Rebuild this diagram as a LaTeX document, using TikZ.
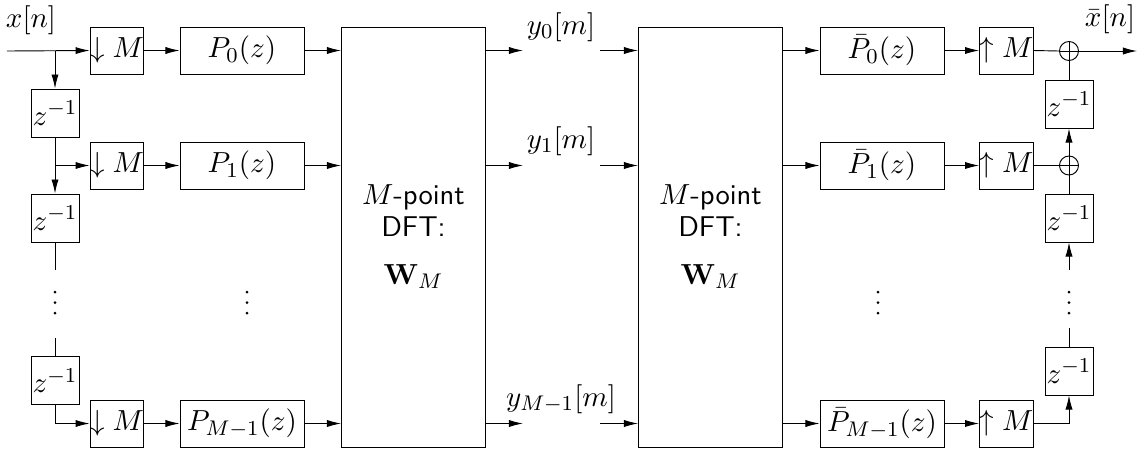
\documentclass[tikz,border=0pt]{standalone}
\usetikzlibrary{arrows.meta}
\newcommand\pxu{0.3774pt}
\begin{document}
\begin{tikzpicture}[x=\pxu,y=-\pxu, line width=0.35pt,
  every node/.style={font=\fontsize{10.8}{13}\selectfont},
  arr/.style={-{Latex[length=5.3pt,width=2.7pt]}},
  blk/.style={draw, minimum width=48*\pxu, minimum height=47*\pxu, inner sep=0pt},
  pbox/.style={blk, minimum width=124*\pxu},
  dly/.style={blk, minimum height=48*\pxu},
  dft/.style={draw, minimum width=144*\pxu, minimum height=420*\pxu, inner sep=0pt, align=center},
  adder/.style={draw, circle, minimum size=19*\pxu, inner sep=0pt,
    path picture={\draw (path picture bounding box.north) -- (path picture bounding box.south)
      (path picture bounding box.west) -- (path picture bounding box.east);}},
  lbl/.style={inner sep=0pt},
  dot/.style={fill, circle, inner sep=0pt, minimum size=3*\pxu}]
\useasboundingbox (0,0) rectangle (1142,452);
% analysis side
\node[blk] (dm0) at (117,50.5) {$\downarrow M$};
\node[blk] (dm1) at (117,165.5) {$\downarrow M$};
\node[blk] (dmM) at (117,423.5) {$\downarrow M$};
\node[pbox] (p0) at (242,50.5) {$P_0(z)$};
\node[pbox] (p1) at (242,165.5) {$P_1(z)$};
\node[pbox] (pM) at (242,423.5) {$P_{M-1}(z)$};
\node[dly] (zl1) at (55,113) {$z^{-1}$};
\node[dly] (zl2) at (55,218) {$z^{-1}$};
\node[dly] (zl3) at (55,380.5) {$z^{-1}$};
\node[dft] (dft1) at (413.5,237) {\sffamily $M$-point\\[-1pt]\sffamily DFT:\\[5pt]$\mathbf{W}_M$};
\node[dft] (dft2) at (710.5,237) {\sffamily $M$-point\\[-1pt]\sffamily DFT:\\[5pt]$\mathbf{W}_M$};
% synthesis side
\node[pbox] (pb0) at (882,50.5) {$\bar{P}_0(z)$};
\node[pbox] (pb1) at (882,165.5) {$\bar{P}_1(z)$};
\node[pbox] (pbM) at (882,423.5) {$\bar{P}_{M-1}(z)$};
\node[blk, minimum width=49*\pxu] (um0) at (1006.5,50.5) {$\uparrow M$};
\node[blk, minimum width=49*\pxu] (um1) at (1006.5,165.5) {$\uparrow M$};
\node[blk, minimum width=49*\pxu] (umM) at (1006.5,423.5) {$\uparrow M$};
\node[adder] (a0) at (1069,51) {};
\node[adder] (a1) at (1069,165.5) {};
\node[dly] (zr1) at (1069,104) {$z^{-1}$};
\node[dly] (zr2) at (1069,218) {$z^{-1}$};
\node[dly] (zr3) at (1069,371) {$z^{-1}$};
% labels
\node[lbl] (xin) at (31,20) {$x[n]$};
\node[lbl] (xout) at (1110,19) {$\bar{x}[n]$};
\node[lbl] (y0) at (561,27) {$y_0[m]$};
\node[lbl] (y1) at (561,141) {$y_1[m]$};
\node[lbl] (yM) at (561,399) {$y_{M-1}[m]$};
% coordinates
\coordinate (in) at (7,51);
\coordinate (b0) at (55,51);
\coordinate (b1) at (55,165.5);
\coordinate (l2e) at (55,270);
\coordinate (l3s) at (55,338);
\coordinate (out) at (1137,51);
\coordinate (r2s) at (1069,270);
\coordinate (r3e) at (1069,328);
% left delay chain
\draw[arr] (in) -- (dm0.west);
\draw[arr] (b0) -- (zl1.north);
\draw (zl1.south) -- (b1);
\draw[arr] (b1) -- (dm1.west);
\draw[arr] (b1) -- (zl2.north);
\draw (zl2.south) -- (l2e);
\draw (l3s) -- (zl3.north);
\draw[arr] (zl3.south) |- (dmM.west);
% rows
\foreach \r in {0,1,M}{
  \draw[arr] (dm\r.east) -- (p\r.west);
  \draw[arr] (p\r.east) -- (p\r.east -| dft1.west);
  \draw[arr] (pb\r.east) -- (um\r.west);
}
\draw[arr] (dft1.east |- p0.east) -- ++(37,0);
\draw[arr] (dft1.east |- p1.east) -- ++(37,0);
\draw[arr] (dft1.east |- pM.east) -- ++(37,0);
\draw[arr] (dft2.west |- p0.east) ++(-38,0) -- (dft2.west |- p0.east);
\draw[arr] (dft2.west |- p1.east) ++(-38,0) -- (dft2.west |- p1.east);
\draw[arr] (dft2.west |- pM.east) ++(-38,0) -- (dft2.west |- pM.east);
\draw[arr] (dft2.east |- pb0.west) -- (pb0.west);
\draw[arr] (dft2.east |- pb1.west) -- (pb1.west);
\draw[arr] (dft2.east |- pbM.west) -- (pbM.west);
% right delay chain
\draw (um0.east) -- (a0.west);
\draw[arr] (a0.east) -- (out);
\draw (zr1.north) -- (a0.south);
\draw[arr] (a1.north) -- (zr1.south);
\draw (um1.east) -- (a1.west);
\draw (zr2.north) -- (a1.south);
\draw[arr] (r2s) -- (zr2.south);
\draw (zr3.north) -- (r3e);
\draw[arr] (umM.east) -| (zr3.south);
% dots
\foreach \x in {55,247,878,1069}{
  \foreach \y in {292,302.5,313}{\node[dot] at (\x,\y) {};}
}
\end{tikzpicture}
\end{document}
